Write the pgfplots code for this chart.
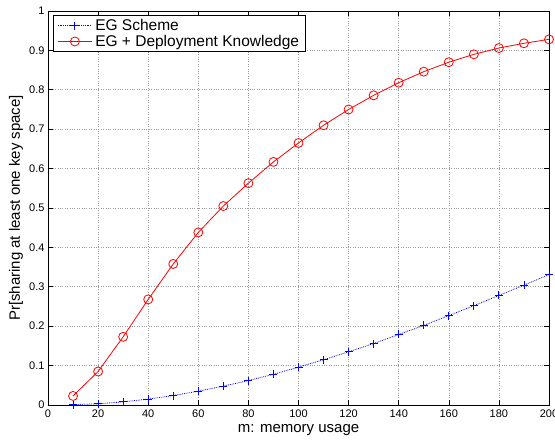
\documentclass[border=0pt]{standalone}
\usepackage{fontspec}
\setmainfont{Liberation Sans}
\usepackage{pgfplots}
\pgfplotsset{compat=1.18}
\begin{document}
\begin{tikzpicture}
\begin{axis}[
  scale only axis,
  width=501pt, height=394pt,
  xmin=0, xmax=200, ymin=0, ymax=1,
  xtick={0,20,...,200},
  ytick={0,0.1,...,1},
  yticklabels={0,0.1,0.2,0.3,0.4,0.5,0.6,0.7,0.8,0.9,1},
  tick align=inside,
  tick pos=both,
  major tick length=5pt,
  grid=major,
  grid style={dotted, gray!80, line width=0.6pt},
  axis line style={line width=0.9pt},
  tick style={black, line width=0.6pt},
  /pgf/number format/assume math mode=true,
  ticklabel style={font=\fontsize{11}{12}\selectfont},
  xticklabel style={yshift=-1pt},
  xlabel={m: memory usage},
  ylabel={Pr[sharing at least one key space]},
  label style={font=\fontsize{15}{16}\selectfont},
  xlabel style={at={(axis description cs:0.5,-0.064)}, anchor=center},
  ylabel style={at={(axis description cs:-0.064,0.5)}, anchor=center},
  legend style={at={(0.01,0.99)}, anchor=north west, font=\fontsize{15.5}{18}\selectfont, draw=black, line width=0.9pt, inner xsep=4pt, inner ysep=2pt, row sep=-1pt,
    /tikz/every odd column/.append style={column sep=1pt}},
  legend cell align=left,
  legend image code/.code={\draw[mark repeat=2,mark phase=2,#1] plot coordinates {(0pt,0pt) (17pt,0pt) (34pt,0pt)};},
]
\addplot[blue, densely dotted, line width=0.8pt, mark=+, mark size=4pt, mark options={solid, blue, line width=0.9pt}] coordinates {
(10,0.001) (20,0.003) (30,0.008) (40,0.015) (50,0.024) (60,0.035) (70,0.048) (80,0.062) (90,0.078) (100,0.096)
(110,0.115) (120,0.135) (130,0.156) (140,0.179) (150,0.202) (160,0.227) (170,0.252) (180,0.278) (190,0.304) (200,0.331)
};
\addlegendentry{EG Scheme}
\addplot[red, line width=0.8pt, mark=o, mark size=4.5pt, mark options={solid, red}] coordinates {
(10,0.023) (20,0.085) (30,0.173) (40,0.268) (50,0.358) (60,0.438) (70,0.505) (80,0.563) (90,0.617) (100,0.665)
(110,0.710) (120,0.750) (130,0.786) (140,0.818) (150,0.846) (160,0.870) (170,0.890) (180,0.906) (190,0.918) (200,0.928)
};
\addlegendentry{EG + Deployment Knowledge}
\end{axis}
\pgfresetboundingbox
\path ([shift={(-48pt,-35pt)}]current axis.south west) rectangle ([shift={(6pt,11pt)}]current axis.north east);
\end{tikzpicture}
\end{document}
